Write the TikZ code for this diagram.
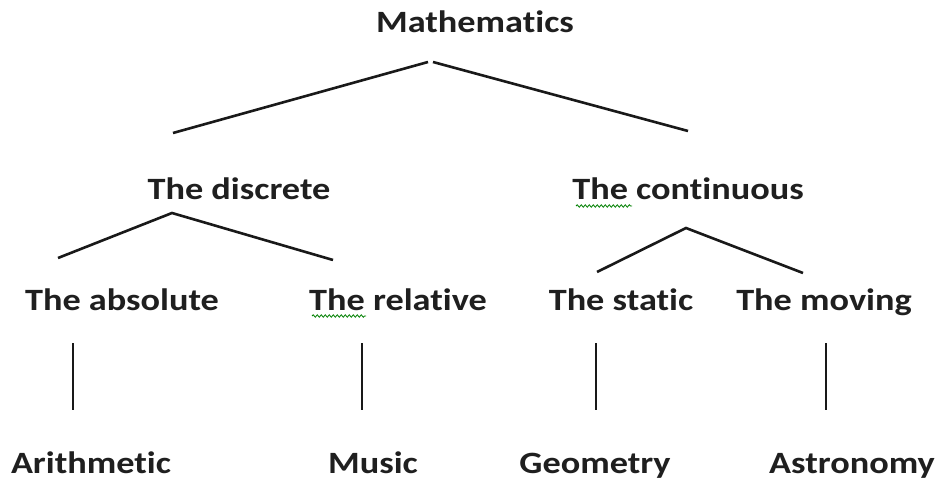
\documentclass[tikz,border=0pt]{standalone}
\usepackage{fontspec}
\setmainfont{Carlito}[FakeStretch=1.17, RawFeature=-liga]
\usetikzlibrary{decorations.pathmorphing}
\begin{document}
\begin{tikzpicture}[x=1pt,y=-1pt,
  lbl/.style={font=\fontsize{31}{36}\selectfont\bfseries, inner sep=0pt, anchor=base, text=black!88},
  ln/.style={line width=2.6pt, black!90},
  squig/.style={green!50!black, line width=0.8pt, decorate, decoration={snake, amplitude=1.2pt, segment length=4pt}}]
\useasboundingbox (0,0) rectangle (939,481);
\fill[white] (0,0) rectangle (939,481);
\node[lbl] (math) at (475,33) {Mathematics};
\node[lbl] (disc) at (239,200) {The discrete};
\node[lbl] (cont) at (688,200) {The continuous};
\node[lbl] (abs) at (122,310) {The absolute};
\node[lbl] (rel) at (398,310) {The relative};
\node[lbl] (stat) at (621,310) {The static};
\node[lbl] (mov) at (824,310) {The moving};
\node[lbl] (ari) at (91,473) {Arithmetic};
\node[lbl] (mus) at (373,473) {Music};
\node[lbl] (geo) at (595,473) {Geometry};
\node[lbl] (ast) at (852,473) {Astronomy};
% connector endpoints
\coordinate (m1) at (428,62); \coordinate (m2) at (433,62);
\coordinate (mL) at (173,133); \coordinate (mR) at (688,131);
\coordinate (d0) at (172,213); \coordinate (dL) at (58,258); \coordinate (dR) at (333,260);
\coordinate (c0) at (686,228); \coordinate (cL) at (597,272); \coordinate (cR) at (803,273);
\draw[ln] (m1) -- (mL);
\draw[ln] (m2) -- (mR);
\draw[ln] (dL) -- (d0) -- (dR);
\draw[ln] (cL) -- (c0) -- (cR);
\foreach \x in {73, 362, 596, 826}{
  \draw[ln] (\x,343) -- (\x,410);
}
\draw[squig] (576,206) -- (632,206);
\draw[squig] (312,316) -- (366,316);
\end{tikzpicture}
\end{document}
